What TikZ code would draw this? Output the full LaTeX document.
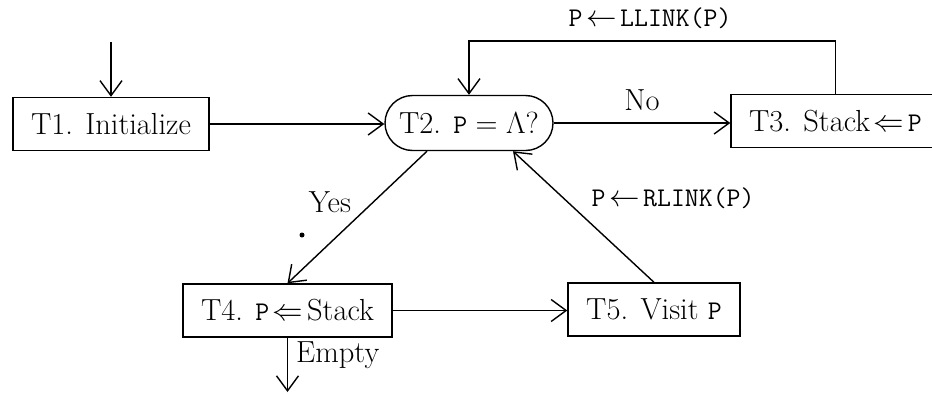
\documentclass[tikz,border=0pt]{standalone}
\usepackage{fix-cm}
\usepackage{fontspec}
\usetikzlibrary{arrows.meta,shapes.misc}
\newcommand{\ttp}[1]{{\fontsize{27}{32}\selectfont\ttfamily #1}}
\newcommand{\larr}{\hspace{0.12em}$\Leftarrow$\hspace{0.12em}}
\newcommand{\sarr}{\hspace{0.12em}$\leftarrow$\hspace{0.12em}}
\tikzset{
 base/.style={font=\fontsize{30.5}{36}\selectfont},
 stepbox/.style={base,draw,line width=1.4pt,minimum height=53pt,inner sep=0pt},
 roundbox/.style={base,draw,line width=1.4pt,rounded rectangle,minimum height=55pt,inner sep=0pt},
 lbl/.style={base,inner sep=0pt},
 flow/.style={line width=1.4pt,-{Straight Barb[length=15pt,width=22pt,line width=1.4pt]}},
}
\begin{document}
\begin{tikzpicture}[x=1pt,y=-1pt]
\useasboundingbox (0,0) rectangle (932,394);
\clip (0,0) rectangle (932,394);
\node[stepbox,minimum width=196pt] (t1) at (111,124) {T1. Initialize};
\node[roundbox,minimum width=168pt] (t2) at (469,123) {T2. \ttp{P}${}=\Lambda$?};
\node[stepbox,minimum width=209pt] (t3) at (835.5,121) {T3. Stack\larr\ttp{P}};
\node[stepbox,minimum width=209pt] (t4) at (287.5,310.5) {T4. \ttp{P}\larr Stack};
\node[stepbox,minimum width=172pt] (t5) at (654,309.5) {T5. Visit \ttp{P}};
\coordinate (in) at (111,42);
\coordinate (out) at (287.5,392);
\coordinate (top) at (0,41);
\draw[flow] (in) -- (t1.north);
\draw[flow] (t1.east) -- (t2.west |- t1.east);
\draw[flow] (t2.east) -- (t3.west |- t2.east);
\draw[flow] (t3.north) -- (t3.north |- top) -- (t2.north |- top) -- (t2.north);
\draw[flow] ([xshift=-42pt]t2.south) -- (t4.north);
\draw[flow] (t4.east) -- (t5.west |- t4.east);
\draw[flow] (t5.north) -- ([xshift=44pt]t2.south);
\draw[flow] (t4.south) -- (out);
\node[lbl] (ll) at (650,18) {\ttp{P}\sarr\ttp{LLINK(P)}};
\node[lbl] (no) at (642,100) {No};
\node[lbl] (yes) at (330,202) {Yes};
\node[lbl] (rl) at (673,198) {\ttp{P}\sarr\ttp{RLINK(P)}};
\node[lbl,anchor=base west] (em) at (296,362) {Empty};
\node[circle,fill,inner sep=0pt,minimum size=5pt] (dot) at (302,235) {};
\end{tikzpicture}
\end{document}
